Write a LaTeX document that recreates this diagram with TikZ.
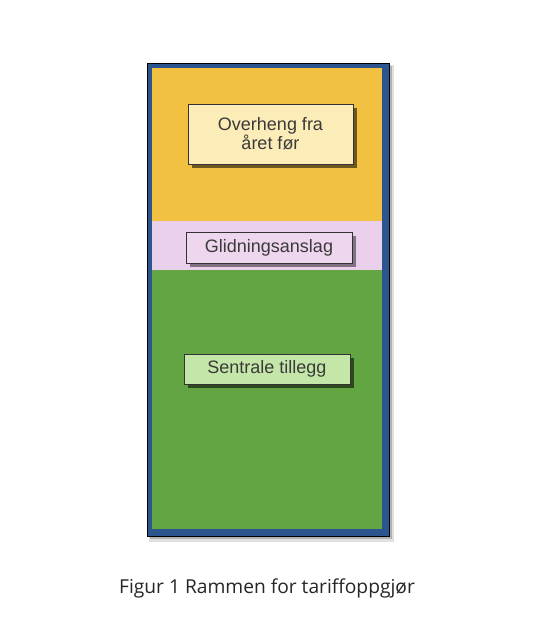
\documentclass[tikz,border=0pt]{standalone}
\usepackage{fontspec}
\setmainfont{Liberation Sans}
\newfontfamily\capfont{Open Sans}
\definecolor{frameblue}{HTML}{2C5590}
\definecolor{ygold}{HTML}{F2C142}
\definecolor{pinkband}{HTML}{EBD0EB}
\definecolor{greenband}{HTML}{63A443}
\definecolor{ybox}{HTML}{FCECB8}
\definecolor{pbox}{HTML}{EFD6EF}
\definecolor{gbox}{HTML}{C5E6A9}
\definecolor{txt}{HTML}{3A3A3A}
\begin{document}
\begin{tikzpicture}[x=1pt,y=-1pt,
  lbl/.style={draw=black!80,line width=0.8pt,text=txt,font=\fontsize{18}{19}\selectfont,align=center,inner sep=0pt},
  ]
\useasboundingbox[fill=white] (0,0) rectangle (546,622);
% outer shadow
\fill[black!12] (149,65) rectangle (394,542);
\fill[black!30] (150,66) rectangle (392,539);
% frame
\node[draw=black,line width=1pt,fill=frameblue,minimum width=242,minimum height=473,inner sep=0pt] (frame) at (268,299.5) {};
\fill[ygold] (152,68) rectangle (382,221);
\fill[pinkband] (152,221) rectangle (382,270);
\fill[greenband] (152,270) rectangle (382,529);
% box shadows
\fill[black!55!ygold] (192,108) rectangle (357,168);
\fill[black!45!pinkband] (190,236) rectangle (356,267);
\fill[black!55!greenband] (188,358) rectangle (354,388);
% boxes
\node[lbl,fill=ybox,minimum width=165,minimum height=60] (over) at (270.5,134) {Overheng fra\\året før};
\node[lbl,fill=pbox,minimum width=166,minimum height=31] (glid) at (269,247.5) {Glidningsanslag};
\node[lbl,fill=gbox,minimum width=166,minimum height=30] (sent) at (267,369) {Sentrale tillegg};
% caption
\node[text=black!85,font=\capfont\fontsize{19.2}{22}\selectfont,inner sep=0pt] (cap) at (267,588) {Figur 1 Rammen for tariffoppgjør};
\end{tikzpicture}
\end{document}
